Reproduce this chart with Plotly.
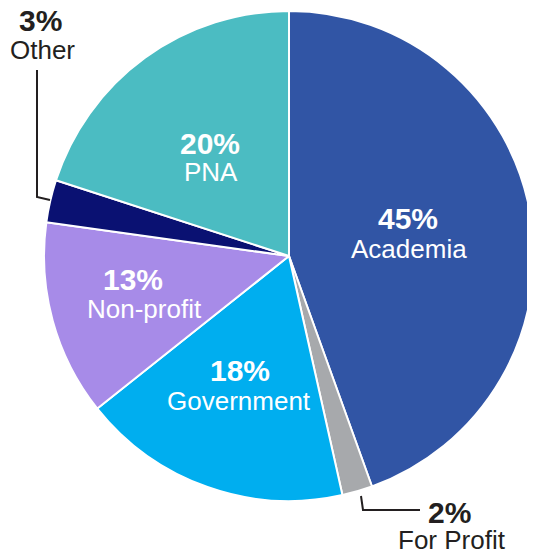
import plotly.graph_objects as go

categories = ["Academia", "For Profit", "Government", "Non-profit", "Other", "PNA"]
shares = [44.5, 2.0, 17.8, 12.9, 2.8, 20.0]
pct_labels = ["45%", "2%", "18%", "13%", "3%", "20%"]
colors = ["#3155A5", "#A7A9AC", "#00AEEF", "#A78BE8", "#0A1172", "#4BBCC2"]

OFF = 8  # page body margin
W, H = 535 - OFF, 553 - OFF
cx, cy, R = 289 - OFF, 256 - OFF, 245

fig = go.Figure(go.Pie(
    labels=categories,
    values=shares,
    sort=False,
    direction="clockwise",
    rotation=0,
    marker=dict(colors=colors, line=dict(color="white", width=2)),
    textinfo="none",
    hoverinfo="label+percent",
    showlegend=False,
    domain=dict(x=[(cx - R) / W, (cx + R) / W], y=[1 - (cy + R) / H, 1 - (cy - R) / H]),
))

# label anchor pixel positions in the reference (percent line centre, name line centre)
label_pos = {
    "Academia": (408, 218, 409, 249, "white"),
    "For Profit": (449, 512, 452, 540, "#231F20"),
    "Government": (240, 370, 239, 401, "white"),
    "Non-profit": (133, 279, 144, 309, "white"),
    "Other": (40, 20, 42, 50, "#231F20"),
    "PNA": (210, 143, 211, 172, "white"),
}

def fx(px):
    return (px - OFF) / W

def fy(py):
    return 1 - (py - OFF) / H

ann = []
for cat, pct in zip(categories, pct_labels):
    px, py, nx, ny, col = label_pos[cat]
    ann.append(dict(x=fx(px), y=fy(py), xref="paper", yref="paper", text="<b>%s</b>" % pct,
                    showarrow=False, font=dict(family="Liberation Sans, Arial", size=30, color=col),
                    xanchor="center", yanchor="middle"))
    ann.append(dict(x=fx(nx), y=fy(ny), xref="paper", yref="paper", text=cat,
                    showarrow=False, font=dict(family="Liberation Sans, Arial", size=26, color=col),
                    xanchor="center", yanchor="middle"))

def path(points):
    s = "M %f %f" % (fx(points[0][0]), fy(points[0][1]))
    for p in points[1:]:
        s += " L %f %f" % (fx(p[0]), fy(p[1]))
    return s

shapes = [
    dict(type="path", xref="paper", yref="paper", path=path([(37, 70), (37, 197), (50, 200)]),
         line=dict(color="#231F20", width=2)),
    dict(type="path", xref="paper", yref="paper", path=path([(361, 496), (363, 510), (420, 510)]),
         line=dict(color="#231F20", width=2)),
]

fig.update_layout(
    width=W, height=H,
    margin=dict(l=0, r=0, t=0, b=0),
    paper_bgcolor="white", plot_bgcolor="white",
    annotations=ann, shapes=shapes,
)

fig.write_html("out.html")
